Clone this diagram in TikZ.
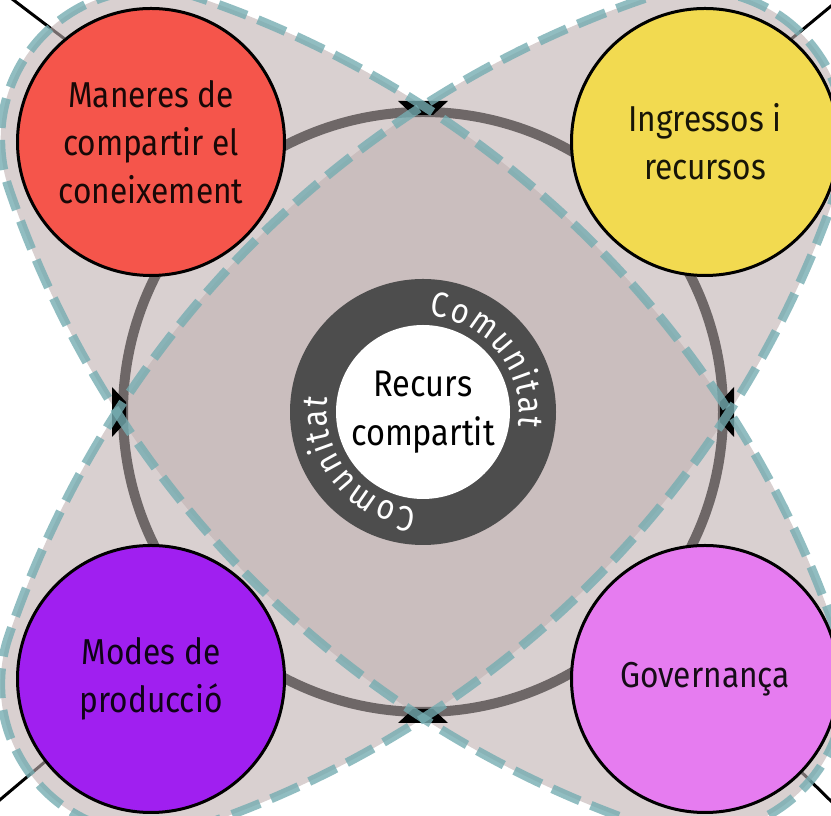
\documentclass[tikz,border=0pt]{standalone}
\usepackage{fontspec}
\setmainfont{Fira Sans}[FakeStretch=0.88]
\usetikzlibrary{backgrounds,decorations.text}

\definecolor{coneixred}{HTML}{F5554B}
\definecolor{ingressyellow}{HTML}{F2DA50}
\definecolor{produpurple}{HTML}{A01FF0}
\definecolor{govpink}{HTML}{E67CF0}
\definecolor{ringgray}{HTML}{6E6767}
\definecolor{comdark}{HTML}{4D4D4D}
\definecolor{petalfill}{HTML}{C0B1B1}
\definecolor{petalline}{HTML}{76ADB2}

\newcommand{\petal}{(385,0) ++(-63.76:150)
	arc[start angle=-63.76,end angle=63.76,radius=150pt]
	arc[start angle=63.76,end angle=116.24,radius=1021pt]
	arc[start angle=116.24,end angle=243.76,radius=150pt]
	arc[start angle=243.76,end angle=296.24,radius=1021pt] -- cycle}
\newcommand{\ringfont}{\fontsize{35}{35}\selectfont}

\begin{document}
\begin{tikzpicture}[x=1pt,y=1pt,
		corner node/.style={circle,draw,line width=3pt,minimum size=267pt,inner sep=0pt,align=center,
			font=\fontsize{36}{48}\selectfont,text opacity=0.9},
		petal/.style={fill=petalfill,fill opacity=0.6},
		petal border/.style={draw=petalline,draw opacity=0.8,line width=9pt,dash pattern=on 30pt off 12pt}]

		\useasboundingbox (0,0) rectangle (831,816);
		\coordinate (C) at (423,404);
		\coordinate (c1) at (-5,830);
		\coordinate (c2) at (836,814);
		\coordinate (c3) at (-5,12);
		\coordinate (c4) at (836,10);

		\node[corner node,fill=coneixred] (1) at (151,674) {Maneres de\\compartir el\\coneixement};
		\node[corner node,fill=ingressyellow] (2) at (705,674) {Ingressos i\\recursos};
		\node[corner node,fill=produpurple] (3) at (151,137) {Modes de\\producció};
		\node[corner node,fill=govpink] (4) at (705,137) {Governança};

		\node[circle,fill=comdark,minimum size=266pt] (5) at (C) {};
		\node[circle,fill=white,minimum size=174pt,inner sep=0pt,align=center,
			font=\fontsize{37}{49}\selectfont] (0) at (C) {Recurs\\compartit};
		\foreach \a in {0,180}
			\path[decorate,decoration={text along path,text={|\ringfont|Comunitat},
				text color=white,text align=fit to path}]
				(C) ++(86+\a:96) arc[start angle=86+\a,end angle=-9+\a,radius=96pt];

		\begin{scope}[on background layer]
			\path[line width=3pt]
			(1.130) edge (c1)
			(2.50) edge (c2)
			(3.218) edge (c3)
			(4.316) edge (c4);

			% two petals, the ring between them, then the dashed outlines
			\foreach \r in {-45,45}
				\path[petal,shift={(C)},rotate=\r] \petal;
			\draw[ringgray,line width=10pt] (C) circle[radius=300pt];
			\foreach \a in {0,90,180,270}
				\fill[shift={(C)},rotate=\a] (297,-10) -- (311,-25) -- (311,25) -- (297,10) -- cycle;
			\foreach \r in {-45,45}
				\path[petal border,shift={(C)},rotate=\r] \petal;
		\end{scope}
\end{tikzpicture}
\end{document}
